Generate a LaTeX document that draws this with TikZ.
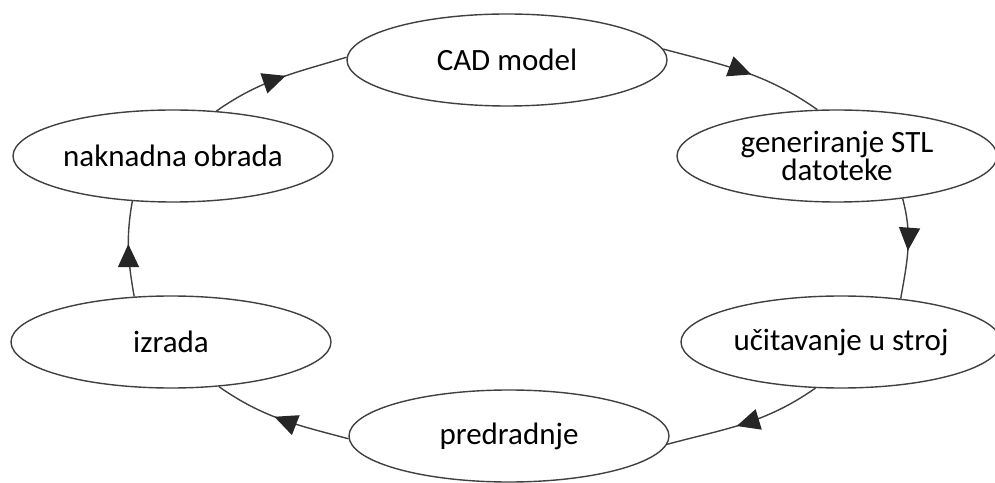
\documentclass[tikz,border=0pt]{standalone}
\usepackage{fontspec}
\setmainfont{Carlito}
\usetikzlibrary{shapes.geometric,arrows.meta,decorations.markings}
\begin{document}
\begin{tikzpicture}[x=1pt,y=1pt,
  ell/.style={ellipse,draw=black!75,line width=1.4pt,fill=white,minimum width=320pt,minimum height=92pt,inner sep=0pt,align=center,font=\fontsize{31}{28.5}\selectfont},
  flow/.style={draw=black!75,line width=1.4pt,postaction={decorate},
    decoration={markings,mark=at position #1 with {\arrow[black!85]{Triangle[length=23pt,width=21pt]}}}},
  flow/.default=0.55]
\useasboundingbox (0,0) rectangle (995,482);
\node[ell] (cad) at (507,422) {CAD model};
\node[ell] (gen) at (837,326) {generiranje STL\\datoteke};
\node[ell] (uc) at (841,140) {učitavanje u stroj};
\node[ell] (pred) at (509,46) {predradnje};
\node[ell] (izr) at (171,140) {izrada};
\node[ell] (nak) at (173,326) {naknadna obrada};
\draw[flow] (cad.4) to[out=-15,in=145] (gen.113);
\draw[flow=0.52] (gen.-33) to[out=-75,in=80] (uc.36);
\draw[flow] (uc.-119) to[out=-145,in=15] (pred.-3);
\draw[flow] (pred.181) to[out=165,in=-35] (izr.-43);
\draw[flow] (izr.129) to[out=100,in=-100] (nak.-132);
\draw[flow] (nak.46) to[out=35,in=-163] (cad.179);
\end{tikzpicture}
\end{document}
